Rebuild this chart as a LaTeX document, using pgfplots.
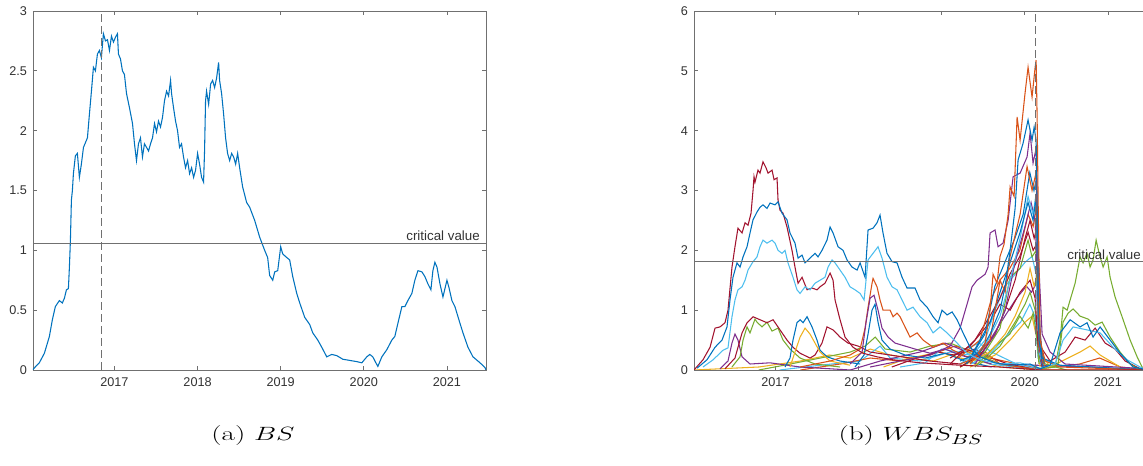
\documentclass[border=0pt]{standalone}
\usepackage{fontspec}
\usepackage{graphicx}
\usepackage{pgfplots}
\pgfplotsset{compat=1.18}
\newfontfamily\arial{Liberation Sans}
\definecolor{mblue}{RGB}{0,114,189}
\definecolor{morange}{RGB}{217,83,25}
\definecolor{myellow}{RGB}{237,177,32}
\definecolor{mpurple}{RGB}{126,47,142}
\definecolor{mgreen}{RGB}{119,172,48}
\definecolor{mlblue}{RGB}{77,190,238}
\definecolor{mred}{RGB}{162,20,47}
\definecolor{axgray}{RGB}{112,112,112}
\definecolor{txtgray}{RGB}{50,50,50}
\pgfplotsset{mstyle/.style={
  scale only axis, width=339.75pt, height=269.25pt,
  xmin=2016.02, xmax=2021.47,
  no markers,
  axis line style={axgray, line width=0.7pt},
  tick style={axgray, line width=0.6pt},
  tick align=inside, major tick length=3pt,
  xtick={2017,2018,2019,2020,2021}, xticklabels={2017,2018,2019,2020,2021},
  tick label style={font=\arial\fontsize{9.5}{11}\selectfont, text=txtgray},
  /pgf/number format/assume math mode=true,
  xticklabel style={yshift=-2.5pt},
  yticklabel style={xshift=-1pt},
  every axis plot/.append style={line width=0.8pt},
}}
\begin{document}
\begin{tikzpicture}[x=1pt,y=1pt]
\useasboundingbox (0,0) rectangle (857.25,349.5);
\clip (0,0) rectangle (857.25,349.5);
% ---------------- (a) BS ----------------
\begin{axis}[mstyle, at={(24.75pt,72pt)}, anchor=south west,
  ymin=0, ymax=3, ytick={0,0.5,1,1.5,2,2.5,3}]
\addplot[mblue] coordinates {
(2016.012,0.00) (2016.096,0.06) (2016.157,0.14) (2016.217,0.28) (2016.253,0.42) (2016.289,0.53)
(2016.337,0.58) (2016.373,0.56) (2016.398,0.60) (2016.422,0.67) (2016.446,0.68) (2016.458,0.86)
(2016.470,1.08) (2016.482,1.42) (2016.494,1.50) (2016.506,1.64) (2016.530,1.79) (2016.554,1.81)
(2016.578,1.61) (2016.602,1.72) (2016.627,1.86) (2016.651,1.90) (2016.675,1.94) (2016.699,2.14)
(2016.723,2.33) (2016.747,2.53) (2016.771,2.50) (2016.795,2.64) (2016.819,2.67) (2016.843,2.61)
(2016.867,2.81) (2016.892,2.75) (2016.916,2.76) (2016.940,2.67) (2016.964,2.79) (2016.988,2.74)
(2017.012,2.78) (2017.036,2.81) (2017.048,2.64) (2017.072,2.60) (2017.096,2.50) (2017.120,2.47)
(2017.145,2.31) (2017.181,2.19) (2017.217,2.06) (2017.241,1.89) (2017.265,1.75) (2017.289,1.89)
(2017.313,1.94) (2017.337,1.78) (2017.361,1.89) (2017.386,1.86) (2017.410,1.83) (2017.434,1.89)
(2017.458,1.94) (2017.482,2.06) (2017.506,1.99) (2017.530,2.08) (2017.554,2.03) (2017.578,2.11)
(2017.602,2.25) (2017.627,2.33) (2017.651,2.29) (2017.675,2.42) (2017.687,2.31) (2017.711,2.19)
(2017.735,2.08) (2017.759,2.00) (2017.783,1.86) (2017.807,1.89) (2017.831,1.78) (2017.855,1.69)
(2017.880,1.75) (2017.904,1.64) (2017.928,1.69) (2017.952,1.61) (2017.976,1.67) (2018.000,1.81)
(2018.024,1.72) (2018.048,1.61) (2018.072,1.57) (2018.084,1.83) (2018.096,2.25) (2018.108,2.33)
(2018.133,2.22) (2018.157,2.39) (2018.181,2.42) (2018.205,2.36) (2018.229,2.44) (2018.253,2.57)
(2018.265,2.42) (2018.289,2.31) (2018.313,2.14) (2018.337,1.94) (2018.361,1.81) (2018.386,1.75)
(2018.410,1.81) (2018.434,1.78) (2018.458,1.72) (2018.482,1.81) (2018.506,1.69) (2018.542,1.53)
(2018.590,1.40) (2018.627,1.36) (2018.687,1.25) (2018.747,1.11) (2018.807,1.00) (2018.843,0.94)
(2018.867,0.79) (2018.904,0.75) (2018.928,0.82) (2018.964,0.83) (2019.000,1.03) (2019.024,0.97)
(2019.072,0.94) (2019.108,0.92) (2019.145,0.78) (2019.193,0.64) (2019.229,0.56) (2019.289,0.44)
(2019.349,0.38) (2019.386,0.31) (2019.446,0.25) (2019.494,0.19) (2019.554,0.11) (2019.614,0.13)
(2019.675,0.12) (2019.747,0.09) (2019.831,0.08) (2019.916,0.07) (2019.976,0.06) (2020.036,0.11)
(2020.072,0.13) (2020.108,0.11) (2020.145,0.06) (2020.169,0.03) (2020.217,0.11) (2020.277,0.17)
(2020.337,0.25) (2020.373,0.28) (2020.410,0.39) (2020.458,0.53) (2020.494,0.53) (2020.530,0.58)
(2020.578,0.64) (2020.614,0.75) (2020.651,0.83) (2020.699,0.82) (2020.735,0.78) (2020.771,0.72)
(2020.807,0.67) (2020.831,0.83) (2020.855,0.90) (2020.880,0.86) (2020.916,0.72) (2020.952,0.61)
(2021.000,0.75) (2021.024,0.69) (2021.060,0.58) (2021.096,0.53) (2021.157,0.39) (2021.193,0.31)
(2021.253,0.19) (2021.313,0.11) (2021.398,0.06) (2021.458,0.02) (2021.470,0.00)
};
\addplot[axgray, line width=0.7pt, dash pattern=on 6pt off 3pt] coordinates {(2016.843,0) (2016.843,3)};
\addplot[axgray, line width=0.7pt] coordinates {(2016.02,1.06) (2021.47,1.06)};
\node[anchor=south east, inner sep=1.5pt, xshift=-3pt, font=\arial\fontsize{10}{12}\selectfont, text=txtgray]
  at (axis cs:2021.47,1.06) {critical value};
\end{axis}
% ---------------- (b) WBS_BS ----------------
\begin{axis}[mstyle, at={(520.5pt,72pt)}, anchor=south west,
  ymin=0, ymax=6, ytick={0,1,2,3,4,5,6}]
% low-level lines
\addplot[myellow] coordinates {(2016.02,0) (2016.8,0.05) (2017.3,0.15) (2017.65,0.25) (2017.9,0.2) (2018.14,0.35) (2018.38,0.25) (2018.62,0.2) (2018.98,0.3) (2019.22,0.2) (2019.46,0.15) (2019.7,0.05) (2020.18,0) (2021.47,0)};
\addplot[mgreen] coordinates {(2016.8,0) (2017.18,0.1) (2017.54,0.2) (2017.9,0.3) (2018.08,0.4) (2018.2,0.55) (2018.32,0.35) (2018.62,0.3) (2018.86,0.4) (2019.1,0.45) (2019.28,0.35) (2019.46,0.25) (2019.7,0.1) (2020.18,0)};
\addplot[mlblue] coordinates {(2017.05,0) (2017.54,0.08) (2018.02,0.15) (2018.26,0.4) (2018.38,0.2) (2018.74,0.15) (2019.1,0.3) (2019.34,0.25) (2019.58,0.1) (2020.18,0)};
\addplot[morange] coordinates {(2017.3,0) (2017.78,0.1) (2018.14,0.2) (2018.5,0.15) (2018.86,0.25) (2019.16,0.4) (2019.4,0.3) (2019.58,0.2) (2020.18,0.02) (2020.66,0.1) (2020.9,0.2) (2021.15,0.05) (2021.47,0)};
\addplot[mpurple] coordinates {(2017.9,0) (2018.26,0.15) (2018.74,0.3) (2019.04,0.45) (2019.22,0.35) (2019.7,0.1) (2020.78,0.05) (2021.47,0)};
\addplot[myellow] coordinates {(2018.3,0.05) (2018.6,0.2) (2018.9,0.15) (2019.1,0.25) (2019.3,0.3) (2019.5,0.2) (2019.7,0.1) (2020.2,0)};
\addplot[mred] coordinates {(2018.4,0.05) (2018.7,0.2) (2018.95,0.3) (2019.15,0.25) (2019.4,0.35) (2019.6,0.2) (2019.8,0.1) (2020.2,0)};
\addplot[mlblue] coordinates {(2018.5,0.05) (2018.8,0.12) (2019.0,0.35) (2019.2,0.3) (2019.45,0.45) (2019.6,0.3) (2019.9,0.1) (2020.2,0)};
% 2016-2017 humps
\addplot[mpurple] coordinates {(2016.333,0.02) (2016.429,0.15) (2016.477,0.45) (2016.513,0.60) (2016.549,0.50) (2016.598,0.22) (2016.694,0.10) (2016.935,0.12) (2017.296,0.05) (2017.9,0)};
\addplot[mgreen] coordinates {(2016.477,0.05) (2016.574,0.22) (2016.610,0.50) (2016.658,0.72) (2016.694,0.62) (2016.754,0.85) (2016.778,0.80) (2016.838,0.72) (2016.898,0.80) (2016.959,0.65) (2017.031,0.70) (2017.091,0.50) (2017.175,0.35) (2017.296,0.20) (2017.476,0.10) (2017.777,0.05)};
\addplot[mred] coordinates {(2016.393,0.02) (2016.513,0.20) (2016.598,0.62) (2016.658,0.79) (2016.730,0.89) (2016.814,0.84) (2016.898,0.79) (2016.971,0.84) (2017.055,0.67) (2017.139,0.50) (2017.211,0.38) (2017.296,0.28) (2017.416,0.20) (2017.476,0.25) (2017.560,0.45) (2017.620,0.72) (2017.693,0.67) (2017.777,0.55) (2017.873,0.45) (2017.994,0.40) (2018.138,0.30) (2018.379,0.25) (2018.619,0.20) (2018.860,0.15) (2019.221,0.10)};
\addplot[mblue] coordinates {(2017.115,0.05) (2017.175,0.20) (2017.211,0.50) (2017.259,0.79) (2017.296,0.84) (2017.332,0.79) (2017.380,0.89) (2017.440,0.72) (2017.500,0.50) (2017.536,0.33) (2017.620,0.22) (2017.777,0.15) (2018.018,0.10)};
\addplot[myellow] coordinates {(2017.175,0.05) (2017.235,0.30) (2017.296,0.55) (2017.356,0.70) (2017.416,0.60) (2017.476,0.45) (2017.536,0.30) (2017.657,0.15) (2017.897,0.08)};
% 2018 spike
\addplot[morange] coordinates {(2017.296,0.05) (2017.657,0.15) (2017.897,0.25) (2018.018,0.35) (2018.078,0.70) (2018.114,1.05) (2018.162,1.45) (2018.174,1.53) (2018.222,1.39) (2018.258,1.17) (2018.294,1.00) (2018.379,1.00) (2018.415,0.89) (2018.463,0.95) (2018.499,0.89) (2018.559,0.72) (2018.619,0.55) (2018.704,0.62) (2018.776,0.50) (2018.896,0.38) (2019.016,0.45) (2019.137,0.33) (2019.305,0.22) (2019.522,0.30) (2019.702,0.10) (2020.18,0)};
\addplot[mpurple] coordinates {(2017.897,0.10) (2018.042,0.30) (2018.090,0.80) (2018.138,1.20) (2018.186,1.25) (2018.234,1.00) (2018.282,0.70) (2018.355,0.55) (2018.439,0.45) (2018.559,0.40) (2018.679,0.35) (2018.860,0.28) (2019.041,0.35) (2019.221,0.25) (2019.6,0.1)};
\addplot[mblue] coordinates {(2017.957,0.05) (2018.066,0.25) (2018.114,0.60) (2018.162,1.00) (2018.198,1.10) (2018.234,0.80) (2018.282,0.50) (2018.379,0.35) (2018.559,0.25) (2018.800,0.20) (2019.041,0.28) (2019.281,0.15) (2019.6,0.05)};
% 2020 fan
\addplot[myellow] coordinates {(2019.341,0.05) (2019.642,0.25) (2019.823,0.50) (2020.003,0.80) (2020.087,0.90) (2020.148,0.50) (2020.184,0.05)};
\addplot[mgreen] coordinates {(2019.462,0.10) (2019.702,0.40) (2019.883,0.80) (2020.003,1.10) (2020.063,1.30) (2020.124,1.00) (2020.160,0.30) (2020.208,0.05)};
\addplot[mlblue] coordinates {(2019.35,0.1) (2019.60,0.3) (2019.80,0.6) (2019.95,0.8) (2020.06,1.1) (2020.12,0.9) (2020.16,0.2) (2020.22,0.02)};
\addplot[mgreen] coordinates {(2019.40,0.05) (2019.64,0.4) (2019.82,0.6) (2019.94,0.9) (2020.04,0.7) (2020.10,0.95) (2020.14,0.6) (2020.17,0.1)};
\addplot[mpurple] coordinates {(2019.30,0.1) (2019.58,0.5) (2019.76,0.9) (2019.90,1.2) (2020.02,1.4) (2020.08,1.3) (2020.14,1.45) (2020.17,0.3) (2020.22,0.05)};
\addplot[mred] coordinates {(2019.101,0.20) (2019.341,0.40) (2019.582,0.80) (2019.702,1.10) (2019.823,1.00) (2019.943,1.30) (2020.063,1.50) (2020.124,1.20) (2020.160,0.40) (2020.208,0.05)};
\addplot[mlblue] coordinates {(2019.281,0.10) (2019.522,0.50) (2019.642,1.00) (2019.763,1.40) (2019.883,1.60) (2020.003,1.80) (2020.087,1.90) (2020.136,1.60) (2020.172,0.30) (2020.220,0.05)};
\addplot[myellow] coordinates {(2019.221,0.05) (2019.582,0.30) (2019.763,0.60) (2019.883,0.90) (2020.003,1.30) (2020.063,1.70) (2020.112,1.40) (2020.148,1.60) (2020.184,0.30) (2020.304,0.05) (2020.665,0.30) (2020.785,0.40) (2020.906,0.25) (2021.146,0.05)};
\addplot[mred] coordinates {(2019.10,0.1) (2019.40,0.5) (2019.58,0.9) (2019.70,1.2) (2019.82,1.6) (2019.94,1.9) (2020.04,2.3) (2020.10,2.0) (2020.14,2.1) (2020.17,0.4) (2020.22,0.05)};
\addplot[mgreen] coordinates {(2019.221,0.05) (2019.522,0.30) (2019.702,0.70) (2019.823,1.55) (2019.943,1.70) (2020.039,2.17) (2020.087,1.89) (2020.136,2.00) (2020.172,0.50) (2020.244,0.10) (2020.5,0)};
\addplot[morange] coordinates {(2019.20,0.2) (2019.46,0.5) (2019.60,1.2) (2019.70,1.5) (2019.82,1.7) (2019.94,2.0) (2020.04,2.6) (2020.10,2.4) (2020.14,2.7) (2020.17,0.4) (2020.24,0.05)};
\addplot[mred] coordinates {(2019.221,0.05) (2019.462,0.25) (2019.642,0.60) (2019.763,1.00) (2019.883,1.50) (2020.003,2.20) (2020.063,2.50) (2020.112,2.20) (2020.148,2.40) (2020.184,0.40) (2020.304,0.15) (2020.485,0.30) (2020.605,0.55) (2020.725,0.50) (2020.846,0.70) (2020.966,0.45) (2021.086,0.35) (2021.207,0.15) (2021.387,0.02)};
\addplot[mpurple] coordinates {(2019.401,0.10) (2019.642,0.60) (2019.763,1.00) (2019.883,1.80) (2020.003,2.40) (2020.075,2.80) (2020.124,2.50) (2020.160,1.20) (2020.208,0.10)};
\addplot[mlblue] coordinates {(2019.221,0.10) (2019.522,0.40) (2019.702,0.90) (2019.823,1.50) (2019.943,2.20) (2020.039,2.90) (2020.099,2.60) (2020.136,2.95) (2020.160,1.50) (2020.196,0.20) (2020.424,0.05)};
\addplot[mblue] coordinates {(2019.341,0.20) (2019.582,0.80) (2019.702,1.30) (2019.823,1.80) (2019.943,2.30) (2020.039,2.80) (2020.099,2.50) (2020.136,2.90) (2020.172,0.60) (2020.232,0.10)};
\addplot[mblue] coordinates {(2019.30,0.1) (2019.52,0.6) (2019.64,1.4) (2019.76,1.8) (2019.88,2.2) (2019.98,2.6) (2020.06,3.3) (2020.11,3.0) (2020.14,3.2) (2020.17,0.5) (2020.22,0.05)};
\addplot[morange] coordinates {(2019.341,0.10) (2019.582,0.50) (2019.702,1.50) (2019.763,1.30) (2019.823,1.90) (2019.943,2.60) (2020.027,3.40) (2020.087,3.00) (2020.136,3.30) (2020.172,0.80) (2020.220,0.10)};
\addplot[mpurple] coordinates {(2018.138,0.05) (2018.499,0.15) (2018.860,0.25) (2019.101,0.40) (2019.221,0.70) (2019.305,1.10) (2019.365,1.39) (2019.425,1.50) (2019.522,1.60) (2019.558,1.72) (2019.582,2.29) (2019.642,2.34) (2019.678,2.06) (2019.738,2.12) (2019.799,2.50) (2019.859,3.23) (2019.943,3.29) (2020.027,3.56) (2020.063,3.96) (2020.099,3.46) (2020.136,3.70) (2020.160,2.00) (2020.208,0.60) (2020.304,0.30) (2020.485,0.10) (2021.47,0.02)};
\addplot[mblue] coordinates {(2019.221,0.15) (2019.462,0.30) (2019.582,0.60) (2019.702,1.00) (2019.763,1.40) (2019.823,2.00) (2019.883,2.70) (2019.919,3.51) (2019.979,3.79) (2020.039,4.18) (2020.087,3.84) (2020.112,4.06) (2020.136,3.84) (2020.148,2.84) (2020.172,0.80) (2020.208,0.20) (2020.424,0.08) (2021.47,0)};
\addplot[morange] coordinates {(2019.221,0.10) (2019.401,0.20) (2019.522,0.45) (2019.582,1.00) (2019.618,1.60) (2019.666,1.45) (2019.702,1.90) (2019.750,2.10) (2019.799,2.60) (2019.823,3.06) (2019.871,2.90) (2019.907,4.23) (2019.943,3.84) (2020.003,4.63) (2020.039,5.06) (2020.087,4.56) (2020.124,5.06) (2020.136,5.18) (2020.148,4.23) (2020.160,2.84) (2020.184,0.50) (2020.244,0.15) (2020.424,0.05) (2021.47,0)};
% 2021 humps
\addplot[mgreen] coordinates {(2020.400,0.10) (2020.460,0.80) (2020.521,0.95) (2020.581,1.02) (2020.665,0.90) (2020.762,0.85) (2020.846,0.75) (2020.930,0.80) (2021.026,0.55) (2021.146,0.30) (2021.267,0.10) (2021.387,0.0)};
\addplot[mgreen] coordinates {(2020.184,0.02) (2020.364,0.05) (2020.424,0.50) (2020.460,1.05) (2020.509,1.00) (2020.545,1.17) (2020.605,1.45) (2020.665,1.89) (2020.701,1.79) (2020.749,1.95) (2020.785,1.72) (2020.821,1.84) (2020.858,2.17) (2020.894,1.95) (2020.942,1.72) (2020.990,1.89) (2021.026,1.55) (2021.086,1.22) (2021.170,0.89) (2021.267,0.50) (2021.351,0.22) (2021.411,0.05) (2021.47,0)};
% big early lines
\addplot[mred] coordinates {(2016.020,0) (2016.128,0.17) (2016.213,0.38) (2016.273,0.70) (2016.333,0.72) (2016.393,0.79) (2016.429,1.00) (2016.477,1.72) (2016.513,2.06) (2016.549,2.37) (2016.598,2.29) (2016.634,2.46) (2016.670,2.42) (2016.706,2.62) (2016.730,3.00) (2016.742,3.23) (2016.754,3.14) (2016.790,3.34) (2016.814,3.29) (2016.850,3.48) (2016.886,3.38) (2016.911,3.29) (2016.959,3.34) (2016.983,3.18) (2017.019,3.21) (2017.031,2.84) (2017.055,2.67) (2017.091,2.62) (2017.139,2.39) (2017.199,2.00) (2017.235,1.72) (2017.272,1.45) (2017.320,1.55) (2017.380,1.34) (2017.440,1.37) (2017.500,1.34) (2017.536,1.39) (2017.596,1.45) (2017.657,1.62) (2017.693,1.50) (2017.717,1.17) (2017.777,0.84) (2017.837,0.55) (2017.933,0.38) (2018.054,0.28) (2018.222,0.22) (2018.415,0.17) (2018.740,0.12) (2019.221,0.08) (2019.702,0.05) (2020.184,0.0) (2021.47,0)};
\addplot[mlblue] coordinates {(2016.128,0.05) (2016.249,0.17) (2016.369,0.33) (2016.429,0.37) (2016.477,0.89) (2016.513,1.17) (2016.549,1.34) (2016.598,1.39) (2016.634,1.50) (2016.670,1.67) (2016.730,1.81) (2016.778,1.89) (2016.814,2.06) (2016.850,2.17) (2016.898,2.12) (2016.959,2.17) (2016.995,2.12) (2017.031,2.00) (2017.079,1.95) (2017.115,2.00) (2017.151,1.79) (2017.211,1.55) (2017.259,1.34) (2017.296,1.28) (2017.356,1.39) (2017.416,1.34) (2017.476,1.45) (2017.536,1.50) (2017.596,1.55) (2017.633,1.72) (2017.681,1.84) (2017.717,1.79) (2017.777,1.67) (2017.837,1.55) (2017.897,1.39) (2017.957,1.34) (2018.018,1.28) (2018.066,1.17) (2018.114,1.84) (2018.174,1.95) (2018.234,2.06) (2018.282,1.87) (2018.342,1.55) (2018.403,1.39) (2018.463,1.34) (2018.523,1.17) (2018.583,1.00) (2018.655,1.05) (2018.740,0.89) (2018.824,0.79) (2018.896,0.62) (2018.980,0.72) (2019.065,0.62) (2019.185,0.45) (2019.305,0.28) (2019.462,0.17) (2019.702,0.10) (2019.943,0.12) (2020.184,0.03) (2020.364,0.10) (2020.460,0.50) (2020.581,0.72) (2020.749,0.67) (2020.906,0.62) (2021.062,0.38) (2021.231,0.17) (2021.387,0.05) (2021.47,0)};
\addplot[mblue] coordinates {(2016.056,0.03) (2016.176,0.17) (2016.273,0.38) (2016.357,0.50) (2016.417,0.72) (2016.453,1.17) (2016.489,1.55) (2016.537,1.79) (2016.574,1.72) (2016.610,1.89) (2016.658,2.06) (2016.694,2.29) (2016.730,2.51) (2016.778,2.64) (2016.814,2.72) (2016.850,2.76) (2016.898,2.70) (2016.935,2.79) (2016.995,2.76) (2017.031,2.81) (2017.079,2.62) (2017.139,2.51) (2017.175,2.29) (2017.235,2.12) (2017.272,1.87) (2017.320,1.92) (2017.356,1.79) (2017.416,1.87) (2017.476,1.95) (2017.512,1.89) (2017.560,2.00) (2017.620,2.17) (2017.657,2.39) (2017.693,2.29) (2017.753,2.06) (2017.813,2.00) (2017.861,1.84) (2017.921,1.72) (2017.982,1.67) (2018.018,1.79) (2018.078,1.55) (2018.114,2.34) (2018.174,2.37) (2018.222,2.46) (2018.258,2.59) (2018.294,2.29) (2018.342,1.95) (2018.403,1.81) (2018.463,1.79) (2018.523,1.55) (2018.583,1.37) (2018.619,1.37) (2018.679,1.37) (2018.740,1.17) (2018.824,1.05) (2018.896,0.89) (2018.956,0.79) (2019.004,1.00) (2019.065,0.92) (2019.125,0.97) (2019.185,0.84) (2019.257,0.62) (2019.341,0.38) (2019.462,0.22) (2019.642,0.12) (2019.823,0.08) (2020.063,0.10) (2020.184,0.02) (2020.304,0.08) (2020.424,0.62) (2020.545,0.84) (2020.665,0.72) (2020.749,0.79) (2020.821,0.55) (2020.906,0.72) (2021.026,0.50) (2021.146,0.28) (2021.303,0.05) (2021.47,0)};
\addplot[axgray, line width=0.7pt, dash pattern=on 6pt off 3pt] coordinates {(2020.13,0) (2020.13,6)};
\addplot[axgray, line width=0.7pt] coordinates {(2016.02,1.81) (2021.47,1.81)};
\node[anchor=south east, inner sep=1.5pt, xshift=-3pt, font=\arial\fontsize{10}{12}\selectfont, text=txtgray]
  at (axis cs:2021.47,1.81) {critical value};
\end{axis}
% captions
\node at (189.75,22.5) {\scalebox{1.45}[1]{\fontsize{15}{18}\selectfont (a) $BS$}};
\node at (683.25,22.5) {\scalebox{1.45}[1]{\fontsize{15}{18}\selectfont (b) $WBS_{BS}$}};
\end{tikzpicture}
\end{document}
